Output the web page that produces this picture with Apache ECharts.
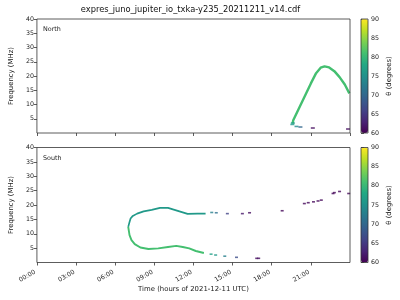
<!DOCTYPE html>
<html><head><meta charset="utf-8">
<script src="https://cdn.jsdelivr.net/npm/echarts@6/dist/echarts.min.js"></script>
<style>html,body{margin:0;padding:0;background:#fff}#c{width:400px;height:300px}</style>
</head><body><div id="c"></div>
<script>
// ---- data ----
const chartTitle = 'expres_juno_jupiter_io_txka-y235_20211211_v14.cdf';
const xTickLabels = ['00:00','03:00','06:00','09:00','12:00','15:00','18:00','21:00'];
const colorbarTicks = [60, 65, 70, 75, 80, 85, 90];

// North: main arc (hours, MHz), theta ~81
const northCurveT = [19.6, 19.65, 20.1, 20.55, 21.0, 21.4, 21.75, 22.05, 22.4, 22.8, 23.2, 23.6, 23.95];
const northCurveF = [3.3, 4.5, 8.8, 13.1, 17.4, 21.0, 22.9, 23.4, 23.0, 21.7, 19.6, 17.0, 13.9];
const northCurveTheta = 81;
// North: isolated bins
const northDashT = [19.58, 19.62, 19.9, 20.2, 21.15, 23.85];
const northDashF = [3.0, 3.5, 2.3, 2.1, 1.75, 1.4];
const northDashTheta = [76, 77, 74, 70, 61, 61];

// South: upper branch (theta ~76) and lower branch (theta ~81)
const southUpperT = [7.0, 7.1, 7.18, 7.35, 7.68, 8.18, 8.8, 9.43, 10.05, 10.55, 11.05, 11.55, 12.3, 12.93];
const southUpperF = [12.4, 14.1, 15.3, 16.2, 17.0, 17.8, 18.3, 19.0, 19.0, 18.3, 17.6, 16.9, 17.0, 17.0];
const southUpperTheta = 76;
const southLowerT = [7.0, 7.05, 7.1, 7.25, 7.5, 7.93, 8.55, 9.3, 10.05, 10.68, 11.18, 11.68, 12.18, 12.8];
const southLowerF = [12.4, 11.8, 9.5, 7.8, 6.4, 5.2, 4.7, 4.9, 5.4, 5.8, 5.4, 4.9, 4.0, 3.3];
const southLowerTheta = 81;
// South: isolated bins
const southDashT = [13.4, 13.75, 14.6, 15.75, 16.3, 18.8, 20.5, 20.8, 21.2, 21.55, 21.8, 22.7, 22.8, 23.2, 23.9,
                    13.35, 13.7, 14.4, 15.3, 16.85, 17.0];
const southDashF = [17.4, 17.3, 17.0, 17.0, 17.3, 18.0, 20.5, 20.8, 21.1, 21.4, 21.7, 24.0, 24.3, 24.7, 24.0,
                    2.9, 2.6, 2.2, 1.8, 1.45, 1.45];
const southDashTheta = [73, 71, 66, 62, 61, 60.5, 60.5, 60.5, 60.5, 60.5, 60.5, 60.5, 60.5, 60.5, 60.5,
                        77, 76, 73, 67, 61, 61];

// ---- helpers ----
const viridisStops = ['#440154','#482475','#414487','#355f8d','#2a788e','#21918c','#22a884','#44bf70','#7ad151','#bddf26','#fde725'];
function hex2rgb(h){return [parseInt(h.slice(1,3),16),parseInt(h.slice(3,5),16),parseInt(h.slice(5,7),16)];}
function viridis(theta){
  let t = Math.max(0, Math.min(1, (theta-60)/30)) * 10;
  let i = Math.min(9, Math.floor(t)), f = t - i;
  const a = hex2rgb(viridisStops[i]), b = hex2rgb(viridisStops[i+1]);
  return 'rgb(' + a.map((v,k)=>Math.round(v+(b[k]-v)*f)).join(',') + ')';
}
const zip2 = (x,y)=>x.map((v,i)=>[v,y[i]]);
const zip3 = (x,y,z)=>x.map((v,i)=>[v,y[i],z[i]]);

const FONT = 'DejaVu Sans';
const axisCol = '#333';
const G = [
  {left:31, top:19, width:319, height:114},
  {left:31, top:147.5, width:319, height:115},
  {left:361, top:19, width:7, height:114},
  {left:361, top:147.5, width:7, height:115}
];

function mainX(idx, showLabels){
  return {
    type:'value', gridIndex:idx, min:0, max:24, interval:3,
    axisLine:{show:false},
    axisTick:{show:true, inside:false, length:3, lineStyle:{color:axisCol, width:0.8}},
    splitLine:{show:false},
    axisLabel:{show:showLabels, rotate:30, fontSize:6.3, fontFamily:FONT, color:'#222', margin:8,
      padding:[0,2,0,0], showMaxLabel:false, formatter:v=>xTickLabels[Math.round(v/3)]||''},
    name: showLabels ? 'Time (hours of 2021-12-11 UTC)' : '',
    nameLocation:'middle', nameGap:21,
    nameTextStyle:{fontSize:6.9, fontFamily:FONT, color:'#222'}
  };
}
function mainY(idx){
  return {
    type:'value', gridIndex:idx, min:0, max:40, interval:5,
    axisLine:{show:false},
    axisTick:{show:true, inside:false, length:3, lineStyle:{color:axisCol, width:0.8}},
    splitLine:{show:false},
    axisLabel:{showMinLabel:false, fontSize:6.3, fontFamily:FONT, color:'#222', margin:3},
    name:'Frequency (MHz)', nameLocation:'middle', nameGap:17,
    nameTextStyle:{fontSize:6.9, fontFamily:FONT, color:'#222'}
  };
}
function cbX(idx){ return {type:'value', gridIndex:idx, show:false, min:0, max:1}; }
function cbY(idx){
  return {
    type:'value', gridIndex:idx, min:colorbarTicks[0], max:colorbarTicks[colorbarTicks.length-1], interval:5,
    position:'right',
    axisLine:{show:false},
    axisTick:{show:true, inside:false, length:3, lineStyle:{color:axisCol, width:0.8}},
    splitLine:{show:false},
    axisLabel:{fontSize:6.3, fontFamily:FONT, color:'#222', margin:3},
    name:'θ (degrees)', nameLocation:'middle', nameGap:18,
    nameTextStyle:{fontSize:6.9, fontFamily:FONT, color:'#222'}
  };
}

const chart = echarts.init(document.getElementById('c'), null, {renderer:'canvas'});
chart.setOption({
  animation:false,
  backgroundColor:'#fff',
  graphic:[
    {type:'text', x:190.5, y:10, style:{text:chartTitle, font:'8.3px "DejaVu Sans"', fill:'#111', align:'center', verticalAlign:'middle'}},
    {type:'text', x:43, y:29.5, style:{text:'North', font:'6.4px "DejaVu Sans"', fill:'#222', align:'left', verticalAlign:'middle'}},
    {type:'text', x:43, y:158.5, style:{text:'South', font:'6.4px "DejaVu Sans"', fill:'#222', align:'left', verticalAlign:'middle'}}
  ],
  grid: G.map((g,i)=>Object.assign({show:true, z:5, backgroundColor:'transparent', borderColor:axisCol, borderWidth:0.8, containLabel:false}, g)),
  xAxis:[mainX(0,false), mainX(1,true), cbX(2), cbX(3)],
  yAxis:[mainY(0), mainY(1), cbY(2), cbY(3)],
  visualMap:[
    {type:'continuous', seriesIndex:1, dimension:2, min:60, max:90, calculable:false, hoverLink:false,
     left:361, top:19, itemWidth:7, itemHeight:114, padding:0, text:null, showLabel:false, z:1,
     inRange:{color:viridisStops}},
    {type:'continuous', seriesIndex:4, dimension:2, min:60, max:90, calculable:false, hoverLink:false,
     left:361, top:147.5, itemWidth:7, itemHeight:115, padding:0, text:null, showLabel:false, z:1,
     inRange:{color:viridisStops}}
  ],
  series:[
    {type:'line', xAxisIndex:0, yAxisIndex:0, data:zip2(northCurveT,northCurveF), symbol:'none',
     lineStyle:{color:viridis(northCurveTheta), width:2.4}, itemStyle:{color:viridis(northCurveTheta)}, z:3},
    {type:'scatter', xAxisIndex:0, yAxisIndex:0, data:zip3(northDashT,northDashF,northDashTheta),
     symbol:'rect', symbolSize:[4,1.6], z:4},
    {type:'line', xAxisIndex:1, yAxisIndex:1, data:zip2(southUpperT,southUpperF), symbol:'none',
     lineStyle:{color:viridis(southUpperTheta), width:1.7}, itemStyle:{color:viridis(southUpperTheta)}, z:3},
    {type:'line', xAxisIndex:1, yAxisIndex:1, data:zip2(southLowerT,southLowerF), symbol:'none',
     lineStyle:{color:viridis(southLowerTheta), width:1.9}, itemStyle:{color:viridis(southLowerTheta)}, z:3},
    {type:'scatter', xAxisIndex:1, yAxisIndex:1, data:zip3(southDashT,southDashF,southDashTheta),
     symbol:'rect', symbolSize:[3,1.6], z:4}
  ]
});
</script>
</body></html>
